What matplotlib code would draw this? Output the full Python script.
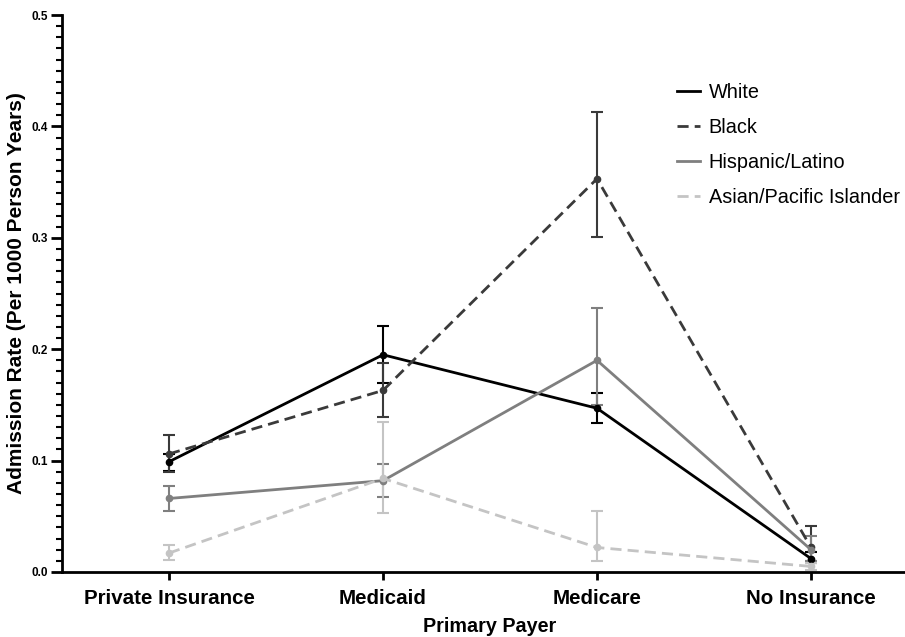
import matplotlib
matplotlib.use("Agg")
import matplotlib.pyplot as plt
from matplotlib.ticker import MultipleLocator
from matplotlib.lines import Line2D
import numpy as np

plt.rcParams['font.family'] = ['Liberation Sans', 'DejaVu Sans']

categories = ["Private Insurance", "Medicaid", "Medicare", "No Insurance"]
series_names = ["White", "Black", "Hispanic/Latino", "Asian/Pacific Islander"]

white = [0.099, 0.195, 0.147, 0.012]
white_lo = [0.091, 0.170, 0.134, 0.008]
white_hi = [0.106, 0.221, 0.161, 0.018]

black = [0.106, 0.163, 0.353, 0.022]
black_lo = [0.090, 0.139, 0.301, 0.010]
black_hi = [0.123, 0.188, 0.413, 0.041]

hisp = [0.066, 0.082, 0.190, 0.020]
hisp_lo = [0.055, 0.067, 0.150, 0.010]
hisp_hi = [0.077, 0.097, 0.237, 0.032]

asian = [0.017, 0.084, 0.022, 0.005]
asian_lo = [0.011, 0.053, 0.010, 0.002]
asian_hi = [0.024, 0.135, 0.055, 0.008]

styles = [
    ("#000000", "-"),
    ("#3a3a3a", (0, (4, 2.2))),
    ("#7f7f7f", "-"),
    ("#c4c4c4", (0, (4, 2.2))),
]

fig = plt.figure(figsize=(9.05, 6.37), dpi=100)
ax = fig.add_axes([62/905, 65/637, 856/905, 557/637])

x = np.arange(len(categories))
data = [(white, white_lo, white_hi), (black, black_lo, black_hi),
        (hisp, hisp_lo, hisp_hi), (asian, asian_lo, asian_hi)]
for (vals, lo, hi), (col, ls), name in zip(data, styles, series_names):
    vals = np.array(vals); lo = np.array(lo); hi = np.array(hi)
    yerr = np.vstack([vals - lo, hi - vals])
    ax.errorbar(x, vals, yerr=yerr, fmt='none', ecolor=col, elinewidth=1.5,
                capsize=4, capthick=1.5, zorder=2)
    ax.plot(x, vals, color=col, linestyle=ls, linewidth=2.0,
            marker='o', markersize=4.5, zorder=3)

ax.set_xlim(-0.5, 3.5)
ax.set_ylim(0, 0.5)
ax.yaxis.set_minor_locator(MultipleLocator(0.01))
ticks = np.arange(0, 0.51, 0.1)
ax.set_yticks(ticks)
ax.set_yticklabels([f"{v:.1f}" for v in ticks], fontsize=8.5, fontweight='bold')
ax.set_xticks(x)
ax.set_xticklabels(categories, fontsize=14.8, fontweight='bold')
for s in ['top', 'right']:
    ax.spines[s].set_visible(False)
for s in ['left', 'bottom']:
    ax.spines[s].set_linewidth(2)
ax.tick_params(axis='y', which='major', length=8, width=2, pad=2)
ax.tick_params(axis='y', which='minor', length=4.5, width=1.5)
ax.tick_params(axis='x', which='major', length=6, width=2, pad=6)

ax.set_ylabel("Admission Rate (Per 1000 Person Years)", fontsize=15,
              fontweight='bold', labelpad=4)
ax.set_xlabel("Primary Payer", fontsize=14.2, fontweight='bold', labelpad=7)

leg_handles = [Line2D([0], [0], color=col, linestyle=ls, linewidth=2)
               for (col, ls) in styles]
fig.legend(leg_handles, series_names, loc='upper left',
           bbox_to_anchor=(677/905, 1 - 83/637), frameon=False,
           borderpad=0, borderaxespad=0,
           fontsize=14.3, handlelength=1.15, handletextpad=0.45, labelspacing=0.8)

fig.savefig("out.png", dpi=100)
